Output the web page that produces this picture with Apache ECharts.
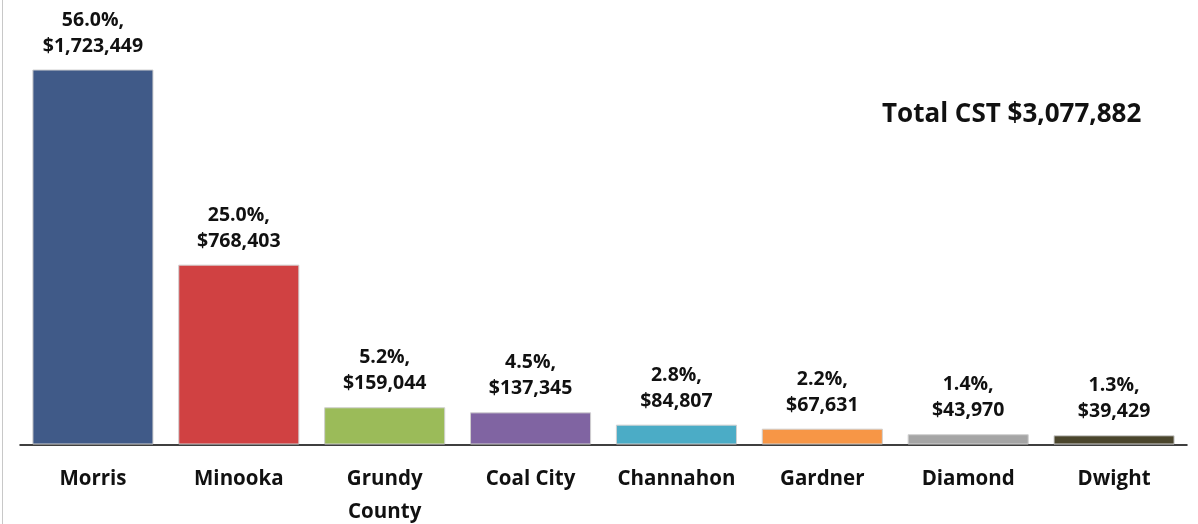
<!DOCTYPE html>
<html><head><meta charset="utf-8">
<script src="https://cdn.jsdelivr.net/npm/echarts@6/dist/echarts.min.js"></script>
<style>html,body{margin:0;padding:0;background:#fff}#c{width:1198px;height:524px}</style>
</head><body><div id="c"></div>
<script>
const categories = ['Morris','Minooka','Grundy County','Coal City','Channahon','Gardner','Diamond','Dwight'];
const values = [1723449, 768403, 159044, 137345, 84807, 67631, 43970, 39429];
const percents = ['56.0%','25.0%','5.2%','4.5%','2.8%','2.2%','1.4%','1.3%'];
const colors = ['#405A88','#D04142','#9BBB59','#8064A2','#4BACC6','#F79646','#A5A5A5','#4A452C'];
const totalLabel = 'Total CST $3,077,882';

const FONT = '"Open Sans", Lato, sans-serif';
const chart = echarts.init(document.getElementById('c'), null, {renderer:'canvas'});
chart.setOption({
  animation:false,
  grid:{left:20,right:11,top:70,bottom:79.5,containLabel:false,outerBoundsMode:'none'},
  xAxis:{type:'category',data:categories,
    axisLine:{show:true,lineStyle:{color:'#000',width:1.5}},
    axisTick:{show:false},
    axisLabel:{interval:0,margin:18.5,fontFamily:FONT,fontWeight:'bold',fontSize:20.5,color:'#111',lineHeight:33,
      formatter:v=>v==='Grundy County'?'Grundy\nCounty':v}},
  yAxis:{type:'value',min:0,max:1600000,show:false,splitLine:{show:false}},
  series:[{type:'bar',clip:true,barCategoryGap:'17%',
    data:values.map((v,i)=>({value:v,itemStyle:{color:colors[i]}})),
    itemStyle:{borderColor:'#d0d0d0',borderWidth:1},
    label:{show:true,position:'top',distance:10.5,fontFamily:FONT,fontWeight:'bold',fontSize:19.5,lineHeight:26,color:'#111',
      formatter:p=>percents[p.dataIndex]+',\n$'+values[p.dataIndex].toLocaleString('en-US')}
  }],
  graphic:[
    {type:'text',left:882,top:101.5,style:{text:totalLabel,font:'bold 26px '+FONT,fill:'#111'}},
    {type:'line',shape:{x1:2.5,y1:0,x2:2.5,y2:524},style:{stroke:'#c8c8c8',lineWidth:1}}
  ]
});
</script></body></html>
